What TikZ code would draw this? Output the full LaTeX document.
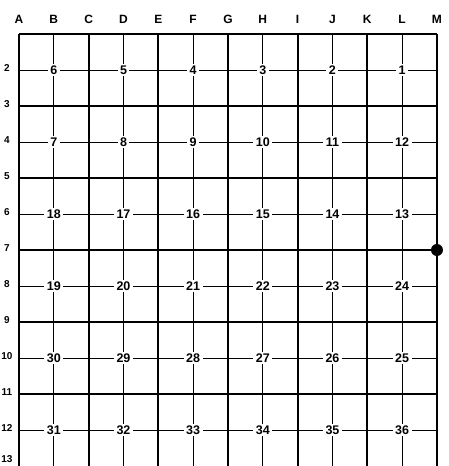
\documentclass[tikz,border=0pt]{standalone}
\usepackage{fontspec}
\setmainfont{Liberation Sans}
\begin{document}
\begin{tikzpicture}[x=1pt,y=-1pt,
  thickline/.style={line width=1.9pt},
  thinline/.style={line width=0.8pt},
  secnum/.style={fill=white,inner xsep=2.5pt,inner ysep=1.5pt,font=\fontsize{12.5}{13}\selectfont\bfseries},
  collabel/.style={font=\fontsize{12}{13}\selectfont\bfseries},
  rowlabel/.style={font=\fontsize{10}{11}\selectfont\bfseries}]
\useasboundingbox (0,0) rectangle (448,466);
\foreach \k in {0,...,12}
  \foreach \r in {1,...,13}
    \coordinate (p\k-\r) at ({19+34.83*\k},{34+36*(\r-1)});
% thin grid lines
\foreach \k in {1,3,...,11}
  \draw[thinline] (p\k-1) -- (p\k-13);
\foreach \r in {2,4,...,12}
  \draw[thinline] (p0-\r) -- (p12-\r);
% thick grid lines
\foreach \k in {0,2,...,12}
  \draw[thickline] (p\k-1) -- (p\k-13);
\foreach \r in {1,3,...,11}
  \draw[thickline] (p0-\r) -- (p12-\r);
\draw[line width=2.3pt] (p0-7) -- (p12-7);
% section numbers
\foreach \i in {0,...,5}
  \foreach \j in {0,...,5}{
    \pgfmathtruncatemacro{\rr}{2+2*\i}
    \pgfmathtruncatemacro{\kk}{1+2*\j}
    \pgfmathtruncatemacro{\n}{mod(\i,2)==0 ? 6*\i+6-\j : 6*\i+1+\j}
    \node[secnum] (s\n) at (p\kk-\rr) {\n};
  }
% column letters
\foreach \l [count=\c from 0] in {A,B,C,D,E,F,G,H,I,J,K,L,M}
  \node[collabel] (col\l) at ({19+34.83*\c},19) {\l};
% row labels
\foreach \r in {2,...,12}
  \node[rowlabel] (row\r) at (7,{32+36*(\r-1)}) {\r};
\node[rowlabel] (row13) at (7,459) {13};
% dot
\fill (p12-7) circle (6);
\end{tikzpicture}
\end{document}
